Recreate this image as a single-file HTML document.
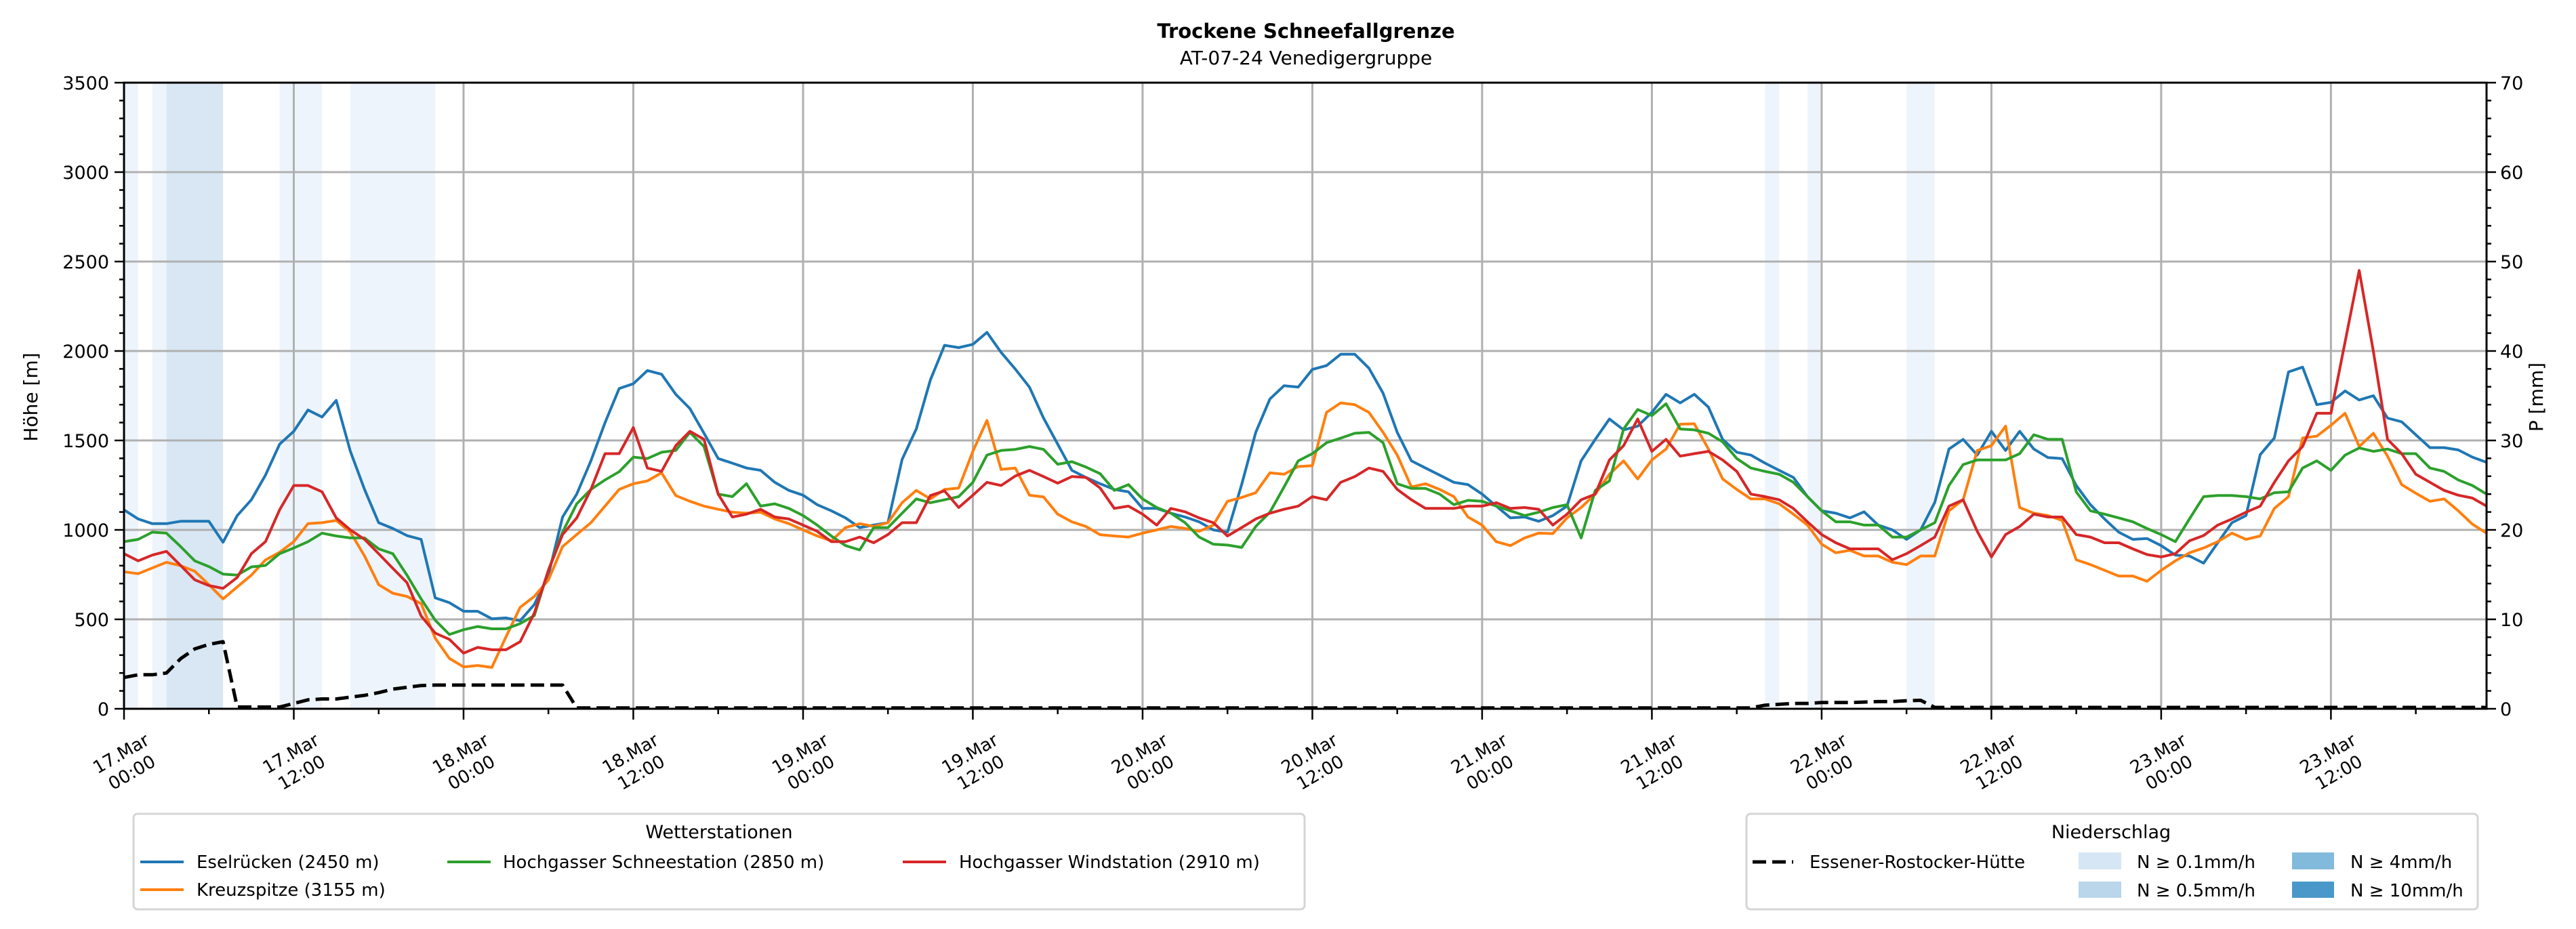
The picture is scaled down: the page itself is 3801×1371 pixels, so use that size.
<!DOCTYPE html>
<html><head><meta charset="utf-8"><style>
html,body{margin:0;padding:0;background:#fff;}
svg{display:block;font-family:"DejaVu Sans","Liberation Sans",sans-serif;}
</style></head><body>
<svg id="chart" width="3801" height="1371" viewBox="0 0 3801 1371" xmlns="http://www.w3.org/2000/svg">
<g id="spans"></g>
<g id="grid"></g>
<g id="series"></g>
<g id="axes"></g>
<text x="1927" y="56" text-anchor="middle" font-size="29" font-weight="bold">Trockene Schneefallgrenze</text>
<text x="1927" y="95" text-anchor="middle" font-size="28">AT-07-24 Venedigergruppe</text>
<text transform="translate(55,586) rotate(-90)" text-anchor="middle" font-size="28">Höhe [m]</text>
<text transform="translate(3752,586) rotate(-90)" text-anchor="middle" font-size="28">P [mm]</text>

<g>
<rect x="197" y="1201" width="1728" height="141" rx="6" fill="#fff" stroke="#d5d5d5" stroke-width="3"/>
<text x="1061" y="1237" text-anchor="middle" font-size="27">Wetterstationen</text>
<g><line x1="207" y1="1272" x2="271" y2="1272" stroke="#1f77b4" stroke-width="4"/><text x="290" y="1281" font-size="26">Eselrücken (2450 m)</text></g>
<g><line x1="207" y1="1313" x2="271" y2="1313" stroke="#ff7f0e" stroke-width="4"/><text x="290" y="1322" font-size="26">Kreuzspitze (3155 m)</text></g>
<g><line x1="660" y1="1272" x2="724" y2="1272" stroke="#2ca02c" stroke-width="4"/><text x="742" y="1281" font-size="26">Hochgasser Schneestation (2850 m)</text></g>
<g><line x1="1332" y1="1272" x2="1396" y2="1272" stroke="#d62728" stroke-width="4"/><text x="1415" y="1281" font-size="26">Hochgasser Windstation (2910 m)</text></g>
</g>

<g>
<rect x="2577" y="1201" width="1079" height="141" rx="6" fill="#fff" stroke="#d5d5d5" stroke-width="3"/>
<text x="3115" y="1237" text-anchor="middle" font-size="27">Niederschlag</text>
<g><line x1="2586" y1="1272" x2="2646" y2="1272" stroke="#000" stroke-width="5" stroke-dasharray="20,9"/><text x="2670" y="1281" font-size="26">Essener-Rostocker-Hütte</text></g>
<g><rect x="3067" y="1258" width="63" height="25" fill="#d6e6f4"/><text x="3153" y="1281" font-size="26">N ≥ 0.1mm/h</text></g>
<g><rect x="3067" y="1301" width="63" height="24" fill="#b9d6ea"/><text x="3153" y="1323" font-size="26">N ≥ 0.5mm/h</text></g>
<g><rect x="3382" y="1258" width="62" height="25" fill="#82badb"/><text x="3468" y="1281" font-size="26">N ≥ 4mm/h</text></g>
<g><rect x="3382" y="1301" width="62" height="24" fill="#4a98c9"/><text x="3468" y="1323" font-size="26">N ≥ 10mm/h</text></g>
</g>
</svg>
<script>
const eselruecken=[1112,1061,1035,1035,1048,1048,1048,931,1080,1168,1306,1479,1551,1670,1631,1724,1439,1226,1040,1008,968,947,620,593,545,545,503,508,492,583,747,1072,1200,1386,1599,1790,1817,1891,1870,1758,1678,1540,1399,1373,1346,1333,1266,1221,1194,1141,1107,1067,1013,1027,
1040,1394,1564,1838,2032,2019,2037,2104,1992,1899,1798,1625,1479,1333,1293,1258,1226,1213,1120,1120,1093,1072,1045,1000,987,1253,1545,1732,1806,1798,1897,1918,1982,1982,1904,1764,1545,1386,1346,1306,1266,1253,1200,1133,1067,1072,1048,1080,1133,1386,1506,1620,1559,1580,1657,1758,1710,
1758,1686,1506,1434,1418,1373,1333,1293,1186,1107,1093,1067,1101,1027,1000,947,1000,1154,1452,1506,1418,1551,1444,1551,1452,1404,1399,1248,1141,1061,987,947,952,912,859,854,814,928,1040,1080,1420,1514,1883,1910,1700,1713,1777,1726,1750,1625,1604,1532,1460,1460,1447,1407,1378];
const kreuzspitze=[766,755,787,819,800,769,694,614,681,747,832,875,934,1035,1040,1053,987,854,694,646,628,588,394,282,234,242,231,402,567,628,720,907,974,1040,1133,1226,1258,1274,1319,1192,1160,1133,1115,1099,1093,1099,1061,1035,1000,966,939,
1013,1035,1019,1040,1152,1221,1173,1226,1234,1439,1612,1338,1346,1194,1184,1088,1045,1019,973,966,960,982,1000,1019,1008,992,1027,1160,1181,1208,1319,1311,1354,1359,1657,1710,1700,1657,1545,1418,1240,1258,1226,1186,1072,1027,934,912,955,982,979,1067,1125,1200,1311,1386,1285,1391,1452,1591,
1593,1452,1285,1226,1173,1173,1146,1088,1027,920,872,886,854,854,819,806,854,854,1107,1168,1444,1471,1580,1125,1093,1080,1053,833,806,774,742,742,713,774,827,872,899,934,982,947,966,1120,1186,1514,1524,1585,1652,1466,1540,1412,1253,1205,1160,1173,1107,1032,982];
const schneestation=[934,947,987,982,907,827,795,753,747,793,801,867,899,934,982,966,955,955,894,867,747,614,495,415,442,460,447,447,476,521,774,987,1146,1226,1279,1325,1407,1399,1434,1444,1545,1466,1200,1186,1258,1133,1146,1120,1080,1027,966,
912,888,1013,1013,1093,1173,1152,1168,1186,1266,1418,1444,1450,1466,1450,1367,1381,1351,1314,1221,1253,1173,1125,1093,1040,960,920,915,902,1019,1099,1240,1386,1426,1487,1513,1540,1545,1487,1258,1232,1232,1200,1141,1165,1160,1133,1107,1080,1099,1125,1141,955,1221,1274,1564,1673,1639,1705,1564,
1559,1540,1492,1399,1346,1327,1311,1266,1186,1107,1045,1045,1027,1027,960,960,1000,1040,1248,1365,1391,1391,1391,1426,1532,1506,1506,1213,1107,1088,1067,1045,1008,974,934,1061,1186,1192,1192,1186,1173,1208,1213,1346,1386,1333,1418,1458,1439,1452,1426,1426,1346,1327,1279,1248,1200];
const windstation=[867,827,859,880,801,721,689,673,734,867,934,1112,1248,1248,1213,1067,1000,947,867,785,705,519,423,388,311,343,330,330,375,535,774,974,1067,1226,1426,1426,1572,1346,1327,1471,1551,1506,1200,1072,1088,1115,1072,1061,1027,992,934,
934,960,928,974,1040,1040,1192,1218,1125,1194,1266,1248,1301,1333,1298,1261,1298,1293,1234,1120,1133,1088,1027,1120,1101,1067,1040,966,1013,1061,1093,1115,1133,1186,1168,1266,1298,1346,1327,1226,1168,1120,1120,1120,1133,1133,1152,1120,1125,1115,1027,1088,1168,1200,1391,1471,1620,1439,1506,1412,
1426,1439,1391,1327,1200,1186,1168,1120,1045,974,928,894,894,894,833,867,912,960,1133,1168,992,849,974,1019,1088,1072,1072,974,960,928,928,894,862,849,867,939,968,1027,1061,1099,1133,1266,1386,1466,1652,1652,2051,2450,1998,1506,1426,1311,1266,1221,1194,1178,1133];
const precip=[3.5,3.8,3.8,4.0,5.6,6.7,7.2,7.5,0.2,0.2,0.2,0.2,0.6,1.0,1.1,1.1,1.3,1.5,1.8,2.2,2.4,2.6,2.65,2.65,2.65,2.65,2.65,2.65,2.65,2.65,2.65,2.65,
0.1,0.1,0.1,0.1,0.1,0.1,0.1,0.1,0.1,0.1,0.1,0.1,0.1,0.1,0.1,0.1,0.1,0.1,0.1,0.1,0.1,0.1,0.1,0.1,0.1,0.1,0.1,0.1,0.1,0.1,0.1,0.1,0.1,0.1,0.1,0.1,0.1,0.1,0.1,0.1,0.1,0.1,0.1,0.1,0.1,0.1,0.1,0.1,0.1,0.1,0.1,0.1,0.1,0.1,0.1,0.1,0.1,0.1,0.1,0.1,0.1,0.1,0.1,0.1,0.1,0.1,0.1,0.1,0.1,0.1,0.1,0.1,0.1,0.1,0.1,0.1,0.1,0.1,0.1,0.1,0.1,0.1,0.1,0.1,
0.4,0.5,0.6,0.6,0.7,0.7,0.7,0.75,0.8,0.8,0.9,0.95,
0.15,0.15,0.15,0.15,0.15,0.15,0.15,0.15,0.15,0.15,0.15,0.15,0.15,0.15,0.15,0.15,0.15,0.15,0.15,0.15,0.15,0.15,0.15,0.15,0.15,0.15,0.15,0.15,0.15,0.15,0.15,0.15,0.15,0.15,0.15,0.15,0.15,0.15,0.15,0.15];
const spanStart=[0,2,3,11,16,116,119,126];
const spanEnd=[1,3,7,14,22,117,120,128];
const spanLevel=[0,0,1,0,0,0,0,0];
const yTicks=[0,500,1000,1500,2000,2500,3000,3500];
const y2Ticks=[0,10,20,30,40,50,60,70];
const xTickDays=["17.Mar","17.Mar","18.Mar","18.Mar","19.Mar","19.Mar","20.Mar","20.Mar","21.Mar","21.Mar","22.Mar","22.Mar","23.Mar","23.Mar"];
const xTickTimes=["00:00","12:00","00:00","12:00","00:00","12:00","00:00","12:00","00:00","12:00","00:00","12:00","00:00","12:00"];

const NS="http://www.w3.org/2000/svg";
const L=183,R=3669,T=122,B=1046,HMAX=167;
const xs=h=>L+h*(R-L)/HMAX;
const ys=v=>B-v/3500*(B-T);
const y2=p=>B-p/70*(B-T);
function mk(tag,attrs,parent){const e=document.createElementNS(NS,tag);for(const k in attrs)e.setAttribute(k,attrs[k]);parent.appendChild(e);return e;}
const spansG=document.getElementById('spans'),gridG=document.getElementById('grid'),serG=document.getElementById('series'),axG=document.getElementById('axes');
const spanColors=["#eef4fb","#d8e7f3"];
spanStart.forEach((s,i)=>{const r=mk('rect',{x:xs(s),y:T,width:xs(spanEnd[i])-xs(s),height:B-T,fill:spanColors[spanLevel[i]]},spansG);

});
yTicks.forEach(v=>{const l=mk('line',{x1:L,x2:R,y1:ys(v),y2:ys(v),stroke:"#b0b0b0","stroke-width":3},gridG);

});
xTickDays.forEach((d,i)=>{const x=xs(i*12);const l=mk('line',{x1:x,x2:x,y1:T,y2:B,stroke:"#b0b0b0","stroke-width":3},gridG);

});
function poly(arr,fy,color,name,dash){const pts=arr.map((v,i)=>xs(i).toFixed(1)+","+fy(v).toFixed(1)).join(" ");
const p=mk('polyline',{points:pts,fill:"none",stroke:color,"stroke-width":dash?5:4,"stroke-linejoin":"round"},serG);
if(dash)p.setAttribute('stroke-dasharray',"20,9");

}
poly(eselruecken,ys,"#1f77b4","line-eselruecken");
poly(kreuzspitze,ys,"#ff7f0e","line-kreuzspitze");
poly(schneestation,ys,"#2ca02c","line-schneestation");
poly(windstation,ys,"#d62728","line-windstation");
poly(precip,y2,"#000","line-precip-huette",true);
// frame
const fr=mk('rect',{x:L,y:T,width:R-L,height:B-T,fill:"none",stroke:"#000","stroke-width":3},axG);


// left y ticks
for(let v=0;v<=3500;v+=100){const maj=v%500===0;mk('line',{x1:L-(maj?14:7),x2:L,y1:ys(v),y2:ys(v),stroke:"#000","stroke-width":2.5},axG);}
yTicks.forEach(v=>{const t=mk('text',{x:L-22,y:ys(v)+10,"text-anchor":"end","font-size":27},axG);t.textContent=v;

});
for(let p=0;p<=70;p+=2){const maj=p%10===0;mk('line',{x1:R,x2:R+(maj?14:7),y1:y2(p),y2:y2(p),stroke:"#000","stroke-width":2.5},axG);}
y2Ticks.forEach(p=>{const t=mk('text',{x:R+20,y:y2(p)+10,"font-size":27},axG);t.textContent=p;

});
for(let h=0;h<=HMAX;h+=6){const maj=h%12===0;mk('line',{x1:xs(h),x2:xs(h),y1:B,y2:B+(maj?16:8),stroke:"#000","stroke-width":2.5},axG);}
xTickDays.forEach((d,i)=>{const x=xs(i*12);const g=mk('g',{transform:`translate(${x.toFixed(1)},1120) rotate(-30)`},axG);


const t1=mk('text',{x:0,y:0,"text-anchor":"middle","font-size":26},g);t1.textContent=d;
const t2=mk('text',{x:0,y:32,"text-anchor":"middle","font-size":26},g);t2.textContent=xTickTimes[i];});
</script>
</body></html>
